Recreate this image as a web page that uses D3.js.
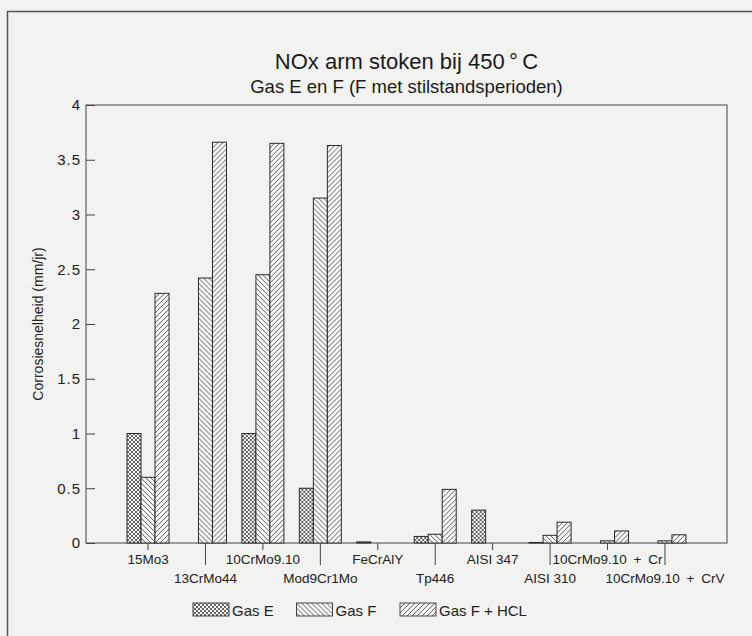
<!DOCTYPE html>
<html>
<head>
<meta charset="utf-8">
<script src="https://cdn.jsdelivr.net/npm/d3@7"></script>
<style>
  body { margin: 0; background: #f2f2f0; }
  svg { display: block; font-family: "Liberation Sans", Arial, sans-serif; }
</style>
</head>
<body>
<script>
// chart data
var categories = ["15Mo3", "13CrMo44", "10CrMo9.10", "Mod9Cr1Mo", "FeCrAlY",
                  "Tp446", "AISI 347", "AISI 310", "10CrMo9.10\u2002+\u2002Cr", "10CrMo9.10\u2002+\u2002CrV"];
var series = ["Gas E", "Gas F", "Gas F + HCL"];
var gasE    = [1.0, 0,    1.0,  0.5,  0.01, 0.06, 0.30, 0.005, 0,    0];
var gasF    = [0.6, 2.42, 2.45, 3.15, 0,    0.08, 0,    0.07,  0.02, 0.02];
var gasFHcl = [2.28, 3.66, 3.65, 3.63, 0,   0.49, 0,    0.19,  0.11, 0.075];
var yTicks = [0, 0.5, 1, 1.5, 2, 2.5, 3, 3.5, 4];

var W = 752, H = 636;
var plot = {left: 86, right: 727, top: 105, bottom: 543};
var mid = (plot.left + plot.right) / 2;

var svg = d3.select("body").append("svg").attr("width", W).attr("height", H);

// hatch patterns
var defs = svg.append("defs");
function hatch(id, size, paths) {
  var p = defs.append("pattern").attr("id", id)
    .attr("patternUnits", "userSpaceOnUse")
    .attr("width", size).attr("height", size);
  p.append("rect").attr("width", size).attr("height", size).attr("fill", "#f7f7f5");
  paths.forEach(function (d) {
    p.append("path").attr("d", d).attr("stroke", "#333").attr("stroke-width", 0.75);
  });
}
hatch("pE", 4, ["M0,0 L4,4 M-1,3 L1,5 M3,-1 L5,1", "M0,4 L4,0 M-1,1 L1,-1 M3,5 L5,3"]);
hatch("pF", 5, ["M0,0 L5,5 M-1,4 L1,6 M4,-1 L6,1"]);
hatch("pH", 5, ["M0,5 L5,0 M-1,1 L1,-1 M4,6 L6,4"]);
var fills = ["url(#pE)", "url(#pF)", "url(#pH)"];

// outer frame of the figure
svg.append("rect").attr("x", 7.5).attr("y", 11.5).attr("width", 780).attr("height", 660)
  .attr("fill", "none").attr("stroke", "#555").attr("stroke-width", 1.5);

// titles
svg.append("text").attr("x", mid).attr("y", 69).attr("text-anchor", "middle")
  .attr("font-size", 22).attr("fill", "#1a1a1a").text("NOx arm stoken bij 450\u2009°\u2009C");
svg.append("text").attr("x", mid).attr("y", 93).attr("text-anchor", "middle")
  .attr("font-size", 18.5).attr("fill", "#1a1a1a").text("Gas E en F (F met stilstandsperioden)");

// scales
var x0 = d3.scalePoint().domain(categories).range([plot.left, plot.right]).padding(1.08);
var x1 = d3.scaleBand().domain(series).range([-21, 21]);
var y = d3.scaleLinear().domain([0, 4]).range([plot.bottom, plot.top]);

// plot box
svg.append("rect").attr("x", plot.left).attr("y", plot.top)
  .attr("width", plot.right - plot.left).attr("height", plot.bottom - plot.top)
  .attr("fill", "none").attr("stroke", "#444").attr("stroke-width", 1);

// y axis (ticks inside)
var yAxis = svg.append("g").attr("transform", "translate(" + plot.left + ",0)")
  .call(d3.axisRight(y).tickValues(yTicks).tickSize(9).tickFormat(d3.format("")));
yAxis.select(".domain").remove();
yAxis.selectAll("line").attr("stroke", "#444");
yAxis.selectAll("text").attr("x", -5).attr("text-anchor", "end")
  .attr("font-size", 15).attr("letter-spacing", 1).attr("fill", "#222").attr("font-family", null);

svg.append("text")
  .attr("transform", "translate(43," + ((plot.top + plot.bottom) / 2) + ") rotate(-90)")
  .attr("text-anchor", "middle").attr("font-size", 14).attr("fill", "#222")
  .text("Corrosiesnelheid (mm/jr)");

// bars
var rows = categories.map(function (c, i) {
  return {cat: c, vals: [gasE[i], gasF[i], gasFHcl[i]]};
});
var groups = svg.append("g").selectAll("g").data(rows).join("g")
  .attr("transform", function (d) { return "translate(" + x0(d.cat) + ",0)"; });
groups.selectAll("rect")
  .data(function (d) { return d.vals.map(function (v, k) { return {s: series[k], v: v, k: k}; }); })
  .join("rect")
  .filter(function (d) { return d.v > 0; })
  .attr("x", function (d) { return x1(d.s); })
  .attr("width", x1.bandwidth())
  .attr("y", function (d) { return y(d.v); })
  .attr("height", function (d) { return y(0) - y(d.v); })
  .attr("fill", function (d) { return fills[d.k]; })
  .attr("stroke", "#2a2a2a").attr("stroke-width", 1);

// x axis with staggered labels
var xg = svg.append("g").attr("transform", "translate(0," + plot.bottom + ")");
xg.selectAll("line").data(categories).join("line")
  .attr("x1", function (d) { return x0(d); }).attr("x2", function (d) { return x0(d); })
  .attr("y1", 0).attr("y2", function (d, i) { return i % 2 ? 22 : 7; })
  .attr("stroke", "#444");
xg.selectAll("text").data(categories).join("text")
  .attr("x", function (d) { return x0(d); })
  .attr("y", function (d, i) { return i % 2 ? 40 : 21; })
  .attr("text-anchor", "middle").attr("font-size", 13.5).attr("fill", "#222")
  .text(function (d) { return d; });

// legend
var legend = svg.append("g").attr("transform", "translate(193,603)");
var li = legend.selectAll("g").data(series).join("g")
  .attr("transform", function (d, i) { return "translate(" + (i * 103.5) + ",0)"; });
li.append("rect").attr("width", 36).attr("height", 13)
  .attr("fill", function (d, i) { return fills[i]; })
  .attr("stroke", "#333").attr("stroke-width", 0.9);
li.append("text").attr("x", 39).attr("y", 12.5).attr("font-size", 15).attr("fill", "#222")
  .text(function (d) { return d; });
</script>
</body>
</html>
